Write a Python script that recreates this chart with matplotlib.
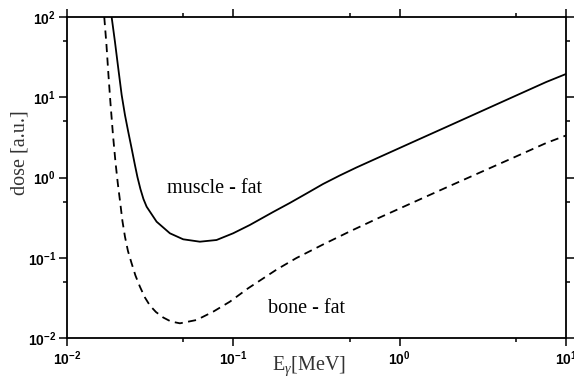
import matplotlib
matplotlib.use('Agg')
import matplotlib.pyplot as plt
import matplotlib.ticker as ticker
import numpy as np

# muscle - fat (solid)
e_muscle = [0.01855, 0.01942, 0.02033, 0.02131, 0.02231, 0.02334, 0.02446, 0.02561,
            0.02651, 0.02763, 0.02881, 0.03011, 0.03457, 0.04156, 0.04994, 0.06291,
            0.07926, 0.09972, 0.1256, 0.1734, 0.2184, 0.2753, 0.3462, 0.4362,
            0.5494, 0.6913, 0.8707, 1.202, 1.908, 3.023, 4.792, 7.605, 10.0]
d_muscle = [100, 49.2, 23.0, 10.7, 6.01, 3.72, 2.31, 1.43,
            1.014, 0.719, 0.5397, 0.4327, 0.2813, 0.2017, 0.1698, 0.1585,
            0.1664, 0.2017, 0.2559, 0.3716, 0.4811, 0.6318, 0.8298, 1.059,
            1.332, 1.652, 2.049, 2.77, 4.259, 6.548, 10.07, 15.49, 19.49]

# bone - fat (dashed)
e_bone = [0.01675, 0.01727, 0.01775, 0.01825, 0.0189, 0.01956, 0.02019, 0.0209,
          0.02154, 0.02231, 0.02325, 0.02446, 0.02579, 0.02744, 0.02941, 0.0315,
          0.03424, 0.03789, 0.04214, 0.04774, 0.0601, 0.07562, 0.09528, 0.1227,
          0.1824, 0.2397, 0.3462, 0.5006, 0.7245, 0.8707, 1.318, 1.908,
          3.023, 4.792, 7.605, 10.0]
d_bone = [100, 44.8, 18.94, 8.479, 3.385, 1.56, 0.8541, 0.4811,
          0.287, 0.1829, 0.1214, 0.08523, 0.06009, 0.04358, 0.03197, 0.02541,
          0.02109, 0.018, 0.01606, 0.01524, 0.01676, 0.02127, 0.02833, 0.04162,
          0.0714, 0.09929, 0.1463, 0.2124, 0.3041, 0.361, 0.532, 0.7507,
          1.148, 1.755, 2.691, 3.338]

plt.rcParams['mathtext.fontset'] = 'custom'
plt.rcParams['mathtext.rm'] = 'Liberation Serif'
plt.rcParams['mathtext.it'] = 'Liberation Serif:italic'
plt.rcParams['mathtext.bf'] = 'Liberation Sans:bold'

fig = plt.figure(figsize=(5.74, 3.81), dpi=100)
ax = fig.add_axes([67 / 574, 1 - 338 / 381, 499 / 574, 321 / 381])

ax.plot(e_muscle, d_muscle, color='black', lw=1.3, solid_joinstyle='round')
ax.plot(e_bone, d_bone, color='black', lw=1.3, dashes=(4.5, 3))

ax.set_xscale('log')
ax.set_yscale('log')
ax.set_xlim(1e-2, 1e1)
ax.set_ylim(1e-2, 1e2)

fmt = ticker.FuncFormatter(lambda v, p: r'$\mathbf{10^{%d}}$' % round(np.log10(v)))
for axis in (ax.xaxis, ax.yaxis):
    axis.set_major_locator(ticker.LogLocator(base=10, numticks=10))
    axis.set_minor_locator(ticker.LogLocator(base=10, subs=[5], numticks=10))
    axis.set_major_formatter(fmt)
    axis.set_minor_formatter(ticker.NullFormatter())

ax.tick_params(which='both', direction='out', top=True, right=True, width=1.1)
ax.tick_params(which='major', length=6, labelsize=10, pad=2)
ax.tick_params(which='minor', length=3)
for s in ax.spines.values():
    s.set_linewidth(1.3)

ax.text(0.0399, 0.64, 'muscle - fat', family='Liberation Serif', fontsize=14.5)
ax.text(0.161, 0.0205, 'bone - fat', family='Liberation Serif', fontsize=14.5)

fig.text(20 / 574, 1 - 153 / 381, 'dose [a.u.]', family='Liberation Serif',
         fontsize=14.5, rotation=90, ha='center', va='center', color='#333333')
fig.text(309 / 574, 1 - 370 / 381, r'E$_\gamma$[MeV]', family='Liberation Serif',
         fontsize=14.5, ha='center', va='baseline', color='#333333')

fig.savefig('out.png', dpi=100)
